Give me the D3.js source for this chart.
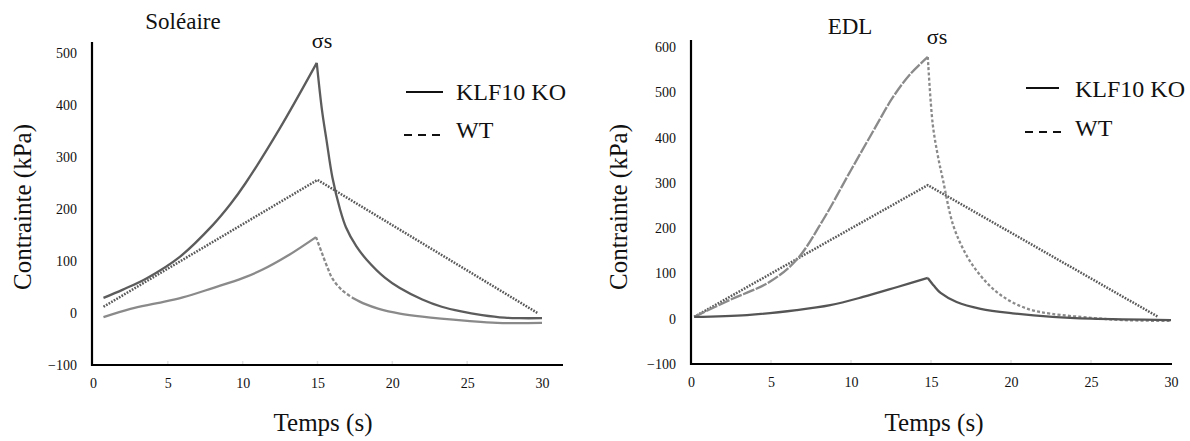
<!DOCTYPE html>
<html><head><meta charset="utf-8">
<script src="https://cdn.jsdelivr.net/npm/d3@7"></script>
<style>
body{margin:0;background:#fff}
svg{display:block}
svg text{font-family:'Liberation Serif','Times New Roman',Times,serif !important;fill:#111}
</style></head>
<body><svg id="c" width="1190" height="441"></svg>
<script>
// ---- data ----
const xTicks = [0, 5, 10, 15, 20, 25, 30];
const soleYTicks = [-100, 0, 100, 200, 300, 400, 500];
const edlYTicks = [-100, 0, 100, 200, 300, 400, 500, 600];
const panelTitles = ["Soléaire", "EDL"];
const peakLabel = "σs";
const xLabel = "Temps (s)";
const yLabel = "Contrainte (kPa)";
const legendLabels = ["KLF10 KO", "WT"];

// [time (s), stress (kPa)]
const soleKO = [[0.7,29],[2,45],[3.6,67],[5.8,108],[8,169],[9.2,210],[10.2,250],[12.5,356],[14.95,481],
  [15.3,390],[15.6,333],[16,260],[16.5,200],[16.9,165],[17.6,128],[18.3,102],[19.5,68],[20.5,48],[22,26],[23.3,12],[24.6,3],[26,-4],[27.5,-9],[28.5,-10],[30,-10]];
const soleWT = [[0.7,-8],[2.5,8],[4.3,19],[6,30],[8,48],[10,67],[11.3,83],[13,110],[14.9,146],
  [15.3,115],[15.7,85],[16,66],[16.6,45],[17.3,30],[18.2,17],[19.1,8],[20.5,-1],[22,-7],[25,-15],[27,-19],[30,-19]];
const soleStrain = [[0.7,12],[15,256],[29.7,0]];

const edlKO = [[0.2,4],[3.5,8],[6.6,19],[8.7,30],[10.75,48],[12.9,70],[14.8,90],
  [15.2,72],[15.6,57],[16.6,37],[18.1,22],[20.1,12],[22.6,4],[25,0],[30,-3]];
const edlWT = [[0.2,4],[2.4,41],[4.9,81],[6.6,130],[8.25,218],[9.9,322],[11.4,415],[12.6,488],[13.7,540],[14.8,578],
  [15.1,432],[15.4,365],[15.75,306],[16.4,205],[17.25,138],[18.1,95],[19,62],[20,38],[21.2,20],[22.5,11],[25,2],[27,-3],[30,-5]];
const edlStrain = [[0.2,4],[14.8,295],[29.2,4]];

// ---- layout ----
const panels = [
  {title: panelTitles[0], yTicks: soleYTicks, ko: soleKO, wt: soleWT, strain: soleStrain,
   xr: [93, 542], yr: [365, 53], yd: [-100, 500], axX: 92, axTop: 42, axY: 365, axRight: 563,
   titleX: 183, titleY: 29, sigX: 322, sigY: 48, yLabX: 22, xLabX: 323,
   leg: {lx1: 406, lx2: 443, ly1: 92, tx: 456, ty1: 100, dx1: 404, dx2: 441, ly2: 135, ty2: 138},
   koStyle: {c: "#5c5c5c", dRise: null, dDecay: null, cut: 99},
   wtStyle: {c: "#8a8a8a", dRise: null, dDecay: "3.5,2", cut: 17.3}},
  {title: panelTitles[1], yTicks: edlYTicks, ko: edlKO, wt: edlWT, strain: edlStrain,
   xr: [691, 1171], yr: [364, 47], yd: [-100, 600], axX: 691, axTop: 40, axY: 364, axRight: 1172,
   titleX: 850, titleY: 34, sigX: 937, sigY: 44, yLabX: 618, xLabX: 934,
   leg: {lx1: 1026, lx2: 1059, ly1: 88, tx: 1075, ty1: 97, dx1: 1025, dx2: 1062, ly2: 132, ty2: 136},
   koStyle: {c: "#555555", dRise: null, dDecay: null, cut: 99},
   wtStyle: {c: "#8a8a8a", dRise: "12,1.5", dDecay: "3,2.2", cut: 99}}
];

const svg = d3.select("#c");

panels.forEach(p => {
  const x = d3.scaleLinear().domain([0, 30]).range(p.xr);
  const y = d3.scaleLinear().domain(p.yd).range(p.yr);
  const g = svg.append("g");

  // faint tick marks on x axis
  g.selectAll("line.ft").data(xTicks.slice(1, -1)).join("line")
    .attr("x1", d => x(d)).attr("x2", d => x(d))
    .attr("y1", p.axY - 4).attr("y2", p.axY)
    .attr("stroke", "#e2e2e2").attr("stroke-width", 1.5);

  // y axis labels
  const ya = g.append("g").attr("transform", `translate(${p.axX},0)`)
    .call(d3.axisLeft(y).tickValues(p.yTicks).tickSize(0).tickPadding(15));
  ya.attr("font-family", null).attr("font-size", 14);
  ya.select(".domain").remove();
  ya.selectAll("text").attr("fill", "#111");

  // x axis labels
  const xa = g.append("g").attr("transform", `translate(0,${p.axY})`)
    .call(d3.axisBottom(x).tickValues(xTicks).tickSize(0).tickPadding(13));
  xa.attr("font-family", null).attr("font-size", 14);
  xa.select(".domain").remove();
  xa.selectAll("text").attr("fill", "#111");

  // axis lines
  g.append("line").attr("x1", p.axX).attr("x2", p.axX).attr("y1", p.axTop).attr("y2", p.axY + 1)
    .attr("stroke", "#000").attr("stroke-width", 2.2);
  g.append("line").attr("x1", p.axX - 1).attr("x2", p.axRight).attr("y1", p.axY).attr("y2", p.axY)
    .attr("stroke", "#000").attr("stroke-width", 2.2);

  const line = d3.line().x(d => x(d[0])).y(d => y(d[1])).curve(d3.curveCatmullRom.alpha(0.5));
  const straight = d3.line().x(d => x(d[0])).y(d => y(d[1]));

  // strain (dotted triangle)
  g.append("path").attr("d", straight(p.strain)).attr("fill", "none")
    .attr("stroke", "#5a5a5a").attr("stroke-width", 2.5).attr("stroke-dasharray", "1.7,1.3");

  function drawSeries(data, st) {
    const pk = d3.maxIndex(data, d => d[1]);
    const rise = data.slice(0, pk + 1);
    const decayAll = data.slice(pk);
    const ci = decayAll.findIndex(d => d[0] >= st.cut);
    const segs = [[rise, st.dRise]];
    if (ci > 0) {
      segs.push([decayAll.slice(0, ci + 1), st.dDecay]);
      segs.push([decayAll.slice(ci), null]);
    } else {
      segs.push([decayAll, st.dDecay]);
    }
    segs.forEach(([seg, dash]) => {
      const path = g.append("path").attr("d", line(seg)).attr("fill", "none")
        .attr("stroke", st.c).attr("stroke-width", 2.3).attr("stroke-linejoin", "miter");
      if (dash) path.attr("stroke-dasharray", dash);
    });
  }
  drawSeries(p.wt, p.wtStyle);
  drawSeries(p.ko, p.koStyle);

  // titles
  g.append("text").attr("x", p.titleX).attr("y", p.titleY).attr("text-anchor", "middle")
    .attr("font-size", 23).text(p.title);
  g.append("text").attr("x", p.sigX).attr("y", p.sigY).attr("text-anchor", "middle")
    .attr("font-size", 22).text(peakLabel);
  g.append("text").attr("transform", `translate(${p.yLabX},207) rotate(-90)`)
    .attr("text-anchor", "middle").attr("dominant-baseline", "central")
    .attr("font-size", 25).text(yLabel);
  g.append("text").attr("x", p.xLabX).attr("y", 431).attr("text-anchor", "middle")
    .attr("font-size", 25).text(xLabel);

  // legend
  const L = p.leg;
  g.append("line").attr("x1", L.lx1).attr("x2", L.lx2).attr("y1", L.ly1).attr("y2", L.ly1)
    .attr("stroke", "#111").attr("stroke-width", 2);
  g.append("text").attr("x", L.tx).attr("y", L.ty1).attr("font-size", 24).text(legendLabels[0]);
  g.append("line").attr("x1", L.dx1).attr("x2", L.dx2).attr("y1", L.ly2).attr("y2", L.ly2)
    .attr("stroke", "#111").attr("stroke-width", 2).attr("stroke-dasharray", "8,6");
  g.append("text").attr("x", L.tx).attr("y", L.ty2).attr("font-size", 24).text(legendLabels[1]);
});
</script>
</body></html>
